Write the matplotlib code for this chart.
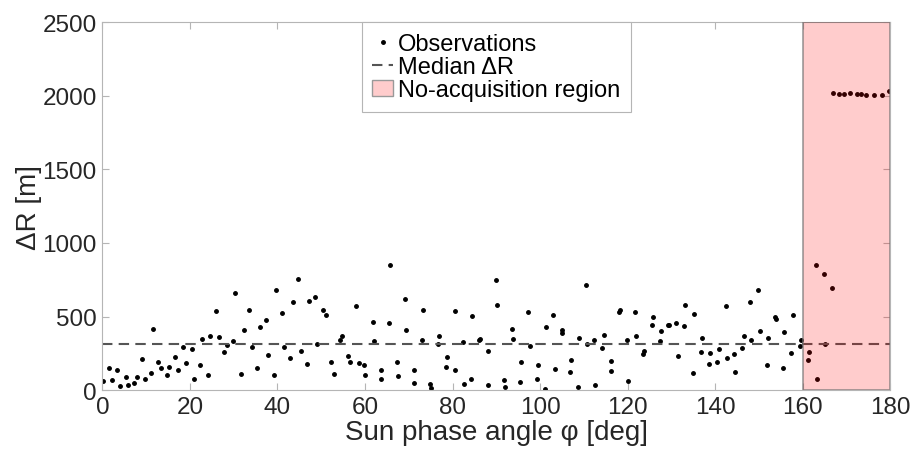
import matplotlib
matplotlib.use("Agg")
import matplotlib.pyplot as plt
from matplotlib.patches import Patch
from matplotlib.lines import Line2D

# Sun phase angle [deg] and range error [m]
phase_deg = [
    0.2, 1.5, 2.1, 3.4, 4.0, 5.3, 5.9, 7.2, 7.8, 9.1, 9.7, 11.0, 11.6, 12.8,
    13.4, 14.7, 15.3, 16.6, 17.2, 18.5, 19.1, 20.4, 21.0, 22.3, 22.8, 24.1,
    24.7, 26.0, 26.6, 27.9, 28.5, 29.8, 30.4, 31.7, 32.3, 33.6, 34.1, 35.4,
    36.0, 37.3, 37.8, 39.2, 39.7, 41.0, 41.6, 42.9, 43.5,
    44.8, 45.4, 46.7, 47.3, 48.6, 49.1, 50.4, 51.0, 52.3, 52.9, 54.2, 54.8,
    56.1, 56.6, 57.9, 58.6, 59.8, 60.1, 61.8, 62.0, 63.6, 63.7, 65.4, 65.6,
    67.3, 67.5, 69.2, 69.4, 71.1, 71.3, 73.0, 73.2, 74.9, 75.1, 76.6, 76.9,
    78.6, 78.8, 80.5, 80.6, 82.3, 82.6, 84.2, 84.4, 86.1, 86.3, 88.0, 88.2,
    89.9, 90.1, 91.8, 92.0, 93.6, 93.8, 95.5, 95.7, 97.3, 97.6, 99.2, 99.5,
    101.1, 101.4, 103.0, 103.3, 104.9, 105.1, 106.8, 107.0, 108.6, 108.9,
    110.5, 110.7, 112.4, 112.6, 114.2, 114.5, 116.1, 116.3, 118.0, 118.2,
    119.9, 120.1, 121.7, 122.0, 123.6, 123.8, 125.5, 125.8, 127.4, 127.7,
    129.3, 129.5, 131.1, 131.4, 132.9, 133.1,
    134.9, 135.1, 136.7, 137.0, 138.6, 138.9, 140.5, 140.8, 142.4, 142.7,
    144.3, 144.6, 146.1, 146.5, 148.0, 148.3, 149.9, 150.2, 151.8, 152.1,
    153.6, 153.9, 155.5, 155.8, 157.4, 157.8, 159.3, 159.6,
    161.2, 161.5, 163.0, 163.3, 164.9, 165.2, 166.8,
    167.0, 168.4, 169.5, 170.9, 172.3, 173.3, 174.5, 176.2, 178.1, 179.8,
]
delta_r_m = [
    63, 149, 72, 140, 29, 86, 34, 47, 92, 214, 79, 119, 417, 194,
    153, 106, 155, 225, 135, 295, 182, 282, 79, 169, 347, 106,
    367, 540, 360, 259, 304, 331, 658, 113, 410, 543, 295, 153,
    432, 475, 236, 101, 678, 522, 290, 216, 599,
    755, 266, 180, 608, 631, 315, 547, 509, 191, 108, 338, 367,
    230, 191, 574, 187, 171, 106, 461, 336, 74, 135, 453, 849,
    191, 95, 620, 407, 49, 140, 340, 545, 45, 16, 311, 369,
    158, 223, 137, 538, 329, 43, 74, 505, 340, 347, 38, 266,
    750, 581, 70, 20, 417, 345, 52, 189, 534, 297, 76, 169,
    11, 426, 509, 144, 390, 407, 124, 205, 20, 351,
    716, 315, 342, 34, 284, 374, 201, 130, 534, 547,
    340, 61, 534, 365, 245, 264, 444, 495, 336, 399,
    444, 444, 453, 230, 439, 581,
    119, 516, 261, 356, 176, 255, 194, 277, 570, 221,
    248, 124, 284, 369, 597, 338, 678, 401, 171, 356,
    498, 484, 153, 394, 255, 511, 302, 342,
    203, 259, 853, 79, 791, 313, 691,
    2020, 2011, 2013, 2016, 2011, 2013, 2008, 2004, 2004, 2031,
]
median_dr = 315
no_acq = [160, 180]

plt.rcParams['font.family'] = ['Liberation Sans', 'DejaVu Sans']

fig = plt.figure(figsize=(9.14, 4.64), dpi=100)
ax = fig.add_axes([0.112, 0.157, 0.862, 0.793])

ax.plot(phase_deg, delta_r_m, 'k.', markersize=5, zorder=2)
ax.axhline(median_dr, color='#555555', linestyle=(0, (5, 3)), linewidth=1.5, zorder=2)
ax.axvspan(no_acq[0], no_acq[1], facecolor=(1, 0, 0, 0.2),
           edgecolor=(0.45, 0.45, 0.45, 0.7), linewidth=1.2, zorder=3)

ax.set_xlim(0, 180)
ax.set_ylim(0, 2500)
ax.set_xticks(range(0, 181, 20))
ax.set_yticks(range(0, 2501, 500))

for s in ax.spines.values():
    s.set_color('#b5b5b5')
ax.tick_params(direction='in', top=True, right=True, length=5,
               color='#b5b5b5', labelcolor='#262626', labelsize=17.5, pad=4)
ax.set_xlabel('Sun phase angle φ [deg]', fontsize=20, color='#262626', labelpad=1)
ax.set_ylabel('ΔR [m]', fontsize=20, color='#262626', labelpad=0)

handles = [
    Line2D([], [], color='k', marker='.', linestyle='none', markersize=5),
    Line2D([], [], color='#555555', linestyle=(0, (5, 3)), linewidth=1.5),
    Patch(facecolor=(1, 0.8, 0.8), edgecolor=(0.6, 0.6, 0.6)),
]
labels = ['Observations', 'Median ΔR', 'No-acquisition region']
leg = ax.legend(handles, labels, loc='upper center', bbox_to_anchor=(0.5, 1.0),
                borderaxespad=0, fancybox=False, edgecolor='#b5b5b5',
                fontsize=17, handlelength=0.9, handletextpad=0.2,
                labelspacing=0.05, borderpad=0.45, framealpha=1)
leg.get_frame().set_linewidth(0.8)

fig.savefig('out.png', dpi=100)
